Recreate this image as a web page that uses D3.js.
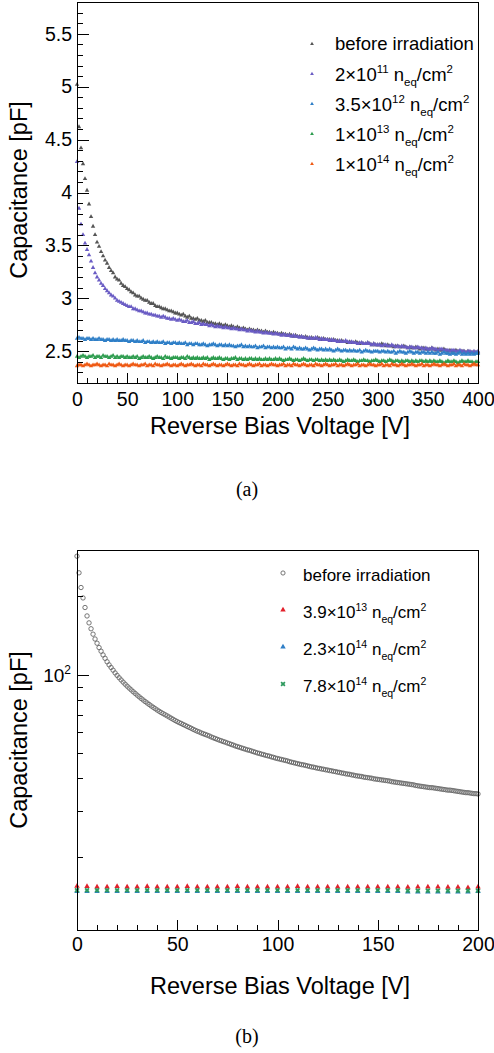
<!DOCTYPE html>
<html><head><meta charset="utf-8">
<script src="https://cdn.jsdelivr.net/npm/d3@7"></script>
<style>body{margin:0;background:#fff}svg{display:block}</style>
</head><body>
<svg id="c" width="494" height="1053"></svg>
<script>
// ---------------- DATA: panel (a) ----------------
const voltA = d3.range(0, 401, 2);
const capBefore = [
5.02,4.62,4.42,4.27,4.13,4.02,3.89,3.77,3.68,3.60,
3.53,3.49,3.44,3.40,3.36,3.33,3.29,3.26,3.24,3.20,
3.18,3.17,3.14,3.12,3.11,3.09,3.08,3.06,3.05,3.03,
3.02,3.02,3.00,2.99,2.98,2.98,2.96,2.95,2.95,2.93,
2.92,2.92,2.91,2.90,2.90,2.89,2.88,2.88,2.87,2.86,
2.86,
2.85,2.84,2.85,2.83,2.82,2.83,2.81,2.81,2.80,2.81,
2.79,2.79,2.78,2.79,2.77,2.77,2.77,2.76,2.76,2.75,
2.76,2.75,2.74,2.75,2.74,
2.73,2.74,2.73,2.72,2.73,2.72,2.71,2.72,2.71,2.70,
2.71,2.70,2.70,2.69,2.70,2.69,2.69,2.68,2.69,2.68,
2.68,2.67,2.68,2.67,2.67,
2.66,2.67,2.66,2.66,2.65,2.66,2.65,2.64,2.65,2.64,
2.64,2.64,2.63,2.64,2.63,2.62,2.63,2.62,2.62,2.63,
2.62,2.61,2.62,2.61,2.61,
2.61,2.60,2.61,2.60,2.60,2.59,2.60,2.59,2.59,2.58,
2.59,2.58,2.58,2.59,2.58,2.57,2.58,2.57,2.57,2.58,
2.57,2.56,2.57,2.56,2.56,
2.56,2.57,2.56,2.55,2.56,2.55,2.55,2.54,2.55,2.55,
2.54,2.54,2.55,2.54,2.53,2.54,2.53,2.53,2.54,2.53,
2.52,2.53,2.53,2.52,2.52,
2.52,2.53,2.52,2.51,2.52,2.51,2.51,2.52,2.51,2.50,
2.51,2.50,2.50,2.51,2.50,2.49,2.50,2.50,2.49,2.50,
2.49,2.49,2.48,2.49,2.49];
const cap2e11 = [
4.29,3.85,3.70,3.60,3.52,3.46,3.41,3.35,3.29,3.24,
3.20,3.17,3.14,3.12,3.09,3.07,3.05,3.03,3.02,3.00,
2.98,2.97,2.96,2.95,2.94,2.93,2.92,2.92,2.90,2.90,
2.89,2.88,2.88,2.87,2.86,2.86,2.85,2.85,2.84,2.84,
2.83,2.83,2.82,2.83,2.82,2.81,2.81,2.80,2.81,2.80,
2.79,
2.80,2.79,2.78,2.78,2.79,2.77,2.77,2.78,2.76,2.76,
2.77,2.75,2.76,2.75,2.75,2.74,2.75,2.74,2.73,2.74,
2.73,2.73,2.72,2.73,2.72,
2.72,2.71,2.72,2.71,2.71,2.70,2.71,2.70,2.70,2.69,
2.70,2.69,2.69,2.68,2.69,2.68,2.68,2.67,2.68,2.67,
2.67,2.67,2.66,2.67,2.66,
2.66,2.65,2.66,2.65,2.65,2.65,2.64,2.65,2.64,2.64,
2.63,2.64,2.63,2.63,2.62,2.63,2.62,2.62,2.63,2.62,
2.61,2.62,2.61,2.61,2.61,
2.60,2.61,2.60,2.60,2.59,2.60,2.59,2.59,2.60,2.59,
2.58,2.59,2.58,2.58,2.57,2.58,2.58,2.57,2.57,2.58,
2.57,2.56,2.57,2.56,2.56,
2.56,2.55,2.56,2.56,2.55,2.55,2.56,2.55,2.54,2.55,
2.54,2.55,2.54,2.54,2.53,2.54,2.54,2.53,2.53,2.54,
2.53,2.53,2.52,2.53,2.52,
2.52,2.53,2.52,2.52,2.51,2.52,2.52,2.51,2.51,2.51,
2.50,2.51,2.51,2.50,2.50,2.51,2.50,2.50,2.49,2.50,
2.50,2.49,2.50,2.49,2.50];
const cap35e12 = [
2.62,2.63,2.62,2.62,2.61,2.62,2.62,2.61,2.62,2.61,
2.61,2.62,2.61,2.61,2.60,2.61,2.61,2.60,2.61,2.60,
2.61,2.60,2.60,2.61,2.60,
2.60,2.59,2.60,2.60,2.59,2.60,2.59,2.59,2.60,2.58,
2.59,2.59,2.58,2.59,2.58,2.59,2.58,2.58,2.59,2.57,
2.58,2.58,2.57,2.58,2.58,
2.57,2.58,2.57,2.57,2.58,2.56,2.57,2.57,2.56,2.57,
2.57,2.56,2.56,2.57,2.56,2.55,2.56,2.56,2.57,2.56,
2.55,2.56,2.56,2.55,2.56,
2.55,2.56,2.55,2.55,2.54,2.55,2.55,2.56,2.54,2.55,
2.54,2.55,2.54,2.54,2.55,2.53,2.54,2.54,2.55,2.53,
2.54,2.54,2.53,2.54,2.53,
2.54,2.53,2.53,2.54,2.52,2.53,2.53,2.52,2.54,2.53,
2.52,2.53,2.52,2.52,2.53,2.52,2.51,2.52,2.53,2.52,
2.51,2.52,2.52,2.51,2.52,
2.51,2.52,2.51,2.50,2.51,2.52,2.51,2.50,2.51,2.51,
2.50,2.51,2.50,2.51,2.50,2.50,2.51,2.49,2.50,2.51,
2.50,2.50,2.49,2.50,2.50,
2.50,2.49,2.50,2.50,2.49,2.50,2.49,2.49,2.50,2.48,
2.49,2.50,2.49,2.49,2.48,2.49,2.50,2.49,2.48,2.49,
2.49,2.48,2.49,2.49,2.48,
2.49,2.48,2.49,2.48,2.48,2.49,2.47,2.48,2.49,2.48,
2.48,2.47,2.48,2.48,2.47,2.48,2.49,2.47,2.48,2.47,
2.48,2.47,2.48,2.47,2.48,2.48];
const cap1e13 = [
2.45,2.44,2.45,2.46,2.45,2.44,2.45,2.45,2.46,2.44,
2.45,2.45,2.44,2.46,2.45,2.45,2.44,2.45,2.46,2.44,
2.45,2.44,2.45,2.45,2.44,
2.45,2.44,2.44,2.45,2.44,2.45,2.43,2.44,2.45,2.44,
2.44,2.45,2.44,2.43,2.44,2.45,2.44,2.44,2.43,2.45,
2.44,2.44,2.43,2.44,2.44,
2.44,2.43,2.44,2.44,2.43,2.45,2.44,2.43,2.44,2.43,
2.44,2.43,2.43,2.44,2.43,2.44,2.42,2.43,2.44,2.43,
2.43,2.44,2.43,2.42,2.43,
2.43,2.42,2.43,2.43,2.44,2.42,2.43,2.43,2.42,2.43,
2.42,2.43,2.43,2.42,2.43,2.42,2.43,2.42,2.42,2.43,
2.42,2.43,2.42,2.42,2.43,
2.42,2.43,2.42,2.41,2.42,2.42,2.43,2.42,2.41,2.42,
2.42,2.41,2.42,2.43,2.42,2.41,2.42,2.42,2.41,2.42,
2.42,2.41,2.42,2.41,2.42,
2.41,2.42,2.41,2.42,2.41,2.41,2.42,2.41,2.40,2.41,
2.42,2.41,2.41,2.42,2.41,2.40,2.41,2.41,2.42,2.41,
2.41,2.40,2.41,2.41,2.42,
2.41,2.40,2.41,2.41,2.40,2.41,2.42,2.41,2.40,2.41,
2.41,2.40,2.41,2.40,2.41,2.41,2.40,2.41,2.40,2.41,
2.40,2.41,2.41,2.40,2.41,
2.40,2.41,2.40,2.41,2.40,2.40,2.41,2.40,2.39,2.40,
2.41,2.40,2.40,2.41,2.40,2.39,2.40,2.41,2.40,2.40,
2.41,2.40,2.40,2.39,2.40,2.40];
const cap1e14 = [
2.36,2.37,2.37,2.36,2.37,2.38,2.37,2.36,2.37,2.37,
2.38,2.37,2.36,2.37,2.37,2.36,2.38,2.37,2.37,2.36,
2.37,2.38,2.37,2.36,2.37,
2.37,2.36,2.37,2.38,2.37,2.37,2.36,2.37,2.37,2.38,
2.36,2.37,2.37,2.36,2.38,2.37,2.37,2.36,2.37,2.37,
2.38,2.37,2.36,2.37,2.37,
2.36,2.37,2.38,2.37,2.36,2.37,2.37,2.38,2.37,2.36,
2.37,2.37,2.36,2.38,2.37,2.37,2.36,2.37,2.38,2.37,
2.36,2.37,2.37,2.36,2.37,
2.38,2.37,2.36,2.37,2.37,2.36,2.38,2.37,2.37,2.36,
2.37,2.38,2.37,2.36,2.37,2.37,2.38,2.36,2.37,2.37,
2.36,2.37,2.38,2.37,2.37,
2.36,2.37,2.37,2.38,2.36,2.37,2.37,2.36,2.38,2.37,
2.37,2.36,2.37,2.38,2.37,2.36,2.37,2.37,2.36,2.38,
2.37,2.37,2.36,2.37,2.38,
2.37,2.36,2.37,2.37,2.38,2.36,2.37,2.37,2.36,2.37,
2.38,2.37,2.36,2.37,2.37,2.38,2.36,2.37,2.37,2.36,
2.37,2.38,2.37,2.37,2.36,
2.37,2.37,2.38,2.36,2.37,2.37,2.36,2.38,2.37,2.37,
2.36,2.37,2.38,2.37,2.36,2.37,2.37,2.38,2.37,2.36,
2.37,2.37,2.38,2.36,2.37,
2.37,2.36,2.37,2.38,2.37,2.37,2.36,2.37,2.38,2.37,
2.36,2.37,2.37,2.38,2.36,2.37,2.37,2.36,2.38,2.37,
2.37,2.36,2.37,2.38,2.37,2.37];
const labelsA = ["before irradiation", "2", "3.5", "1", "1"];
const expA = [null, "11", "12", "13", "14"];
const xTicksA = [0, 50, 100, 150, 200, 250, 300, 350, 400];
const yTicksA = [2.5, 3, 3.5, 4, 4.5, 5, 5.5];

// ---------------- DATA: panel (b) ----------------
const voltB1 = d3.range(0, 201, 1);
const capBeforeB = [
285,246,216,197,181,168,158,150,143,137,132,127,123,119,115.5,112,109,106.5,104,101.5,
99.3,97.3,95.4,93.6,91.9,90.3,88.8,87.4,86.0,84.7,83.4,82.2,81.0,79.9,78.8,77.8,76.8,75.8,74.9,74.0,73.1,72.3,71.5,
70.8,70.1,69.4,68.7,68.0,67.3,66.6,66.0,
65.4,64.9,64.3,63.8,63.2,62.7,62.2,61.6,61.1,60.6,
60.2,59.7,59.3,58.9,58.5,58.1,57.6,57.2,56.8,56.4,
56.0,55.7,55.3,55.0,54.6,54.3,53.9,53.6,53.2,52.9,
52.6,52.3,52.0,51.7,51.4,51.2,50.9,50.6,50.3,50.0,
49.8,49.5,49.3,49.0,48.8,48.6,48.3,48.1,47.8,47.6,
47.4,47.2,47.0,46.8,46.6,46.3,46.1,45.9,45.7,45.5,
45.3,45.1,45.0,44.8,44.6,44.4,44.2,44.1,43.9,43.7,
43.6,43.4,43.3,43.1,43.0,42.8,42.7,42.5,42.4,42.2,
42.1,41.9,41.8,41.6,41.5,41.4,41.2,41.1,40.9,40.8,
40.7,40.6,40.4,40.3,40.2,40.1,40.0,39.8,39.7,39.6,
39.5,39.4,39.3,39.2,39.1,39.0,38.8,38.7,38.6,38.5,
38.4,38.3,38.2,38.1,38.0,37.9,37.8,37.7,37.5,37.4,
37.3,37.2,37.1,37.0,36.9,36.8,36.8,36.7,36.6,36.5,
36.4,36.3,36.2,36.1,36.0,36.0,35.9,35.8,35.7,35.6,
35.5,35.4,35.3,35.2,35.2,35.1,35.0,34.9,34.9,34.8];
const voltB5 = d3.range(0, 201, 5);
const cap39e13 = [15.4,15.35,15.3,15.3,15.35,15.3,15.3,15.35,15.3,15.3,15.3,15.35,15.3,15.3,15.3,15.3,15.35,15.3,15.3,15.3,15.3,15.3,15.35,15.3,15.3,15.3,15.3,15.3,15.3,15.3,15.3,15.3,15.3,15.25,15.3,15.3,15.3,15.25,15.25,15.2,15.3];
const cap23e14 = [14.7,14.7,14.7,14.7,14.7,14.7,14.7,14.7,14.7,14.7,14.7,14.7,14.7,14.7,14.7,14.7,14.7,14.7,14.7,14.7,14.7,14.7,14.7,14.7,14.7,14.7,14.7,14.7,14.7,14.7,14.7,14.7,14.7,14.65,14.65,14.65,14.65,14.65,14.65,14.65,14.7];
const cap78e14 = [14.85,14.85,14.85,14.85,14.85,14.85,14.85,14.85,14.85,14.85,14.85,14.85,14.85,14.85,14.85,14.85,14.85,14.85,14.85,14.85,14.85,14.85,14.85,14.85,14.85,14.85,14.85,14.85,14.85,14.85,14.85,14.85,14.85,14.8,14.8,14.8,14.8,14.8,14.8,14.8,14.8];
const labelsB = ["before irradiation", "3.9", "2.3", "7.8"];
const expB = [null, "13", "14", "14"];
const xTicksB = [0, 50, 100, 150, 200];

// ---------------- DRAW ----------------
const FONT = "'Liberation Sans', Arial, Helvetica, sans-serif";
const svg = d3.select("#c");

function styleAxis(g, fs) {
  g.select(".domain").remove();
  g.selectAll("line").attr("stroke", "#000").attr("stroke-width", 1).attr("shape-rendering", "crispEdges");
  g.selectAll("text").attr("font-family", FONT).attr("font-size", fs).attr("fill", "#000");
}

function richText(sel, x, y, fs, mant, exp, plain) {
  const t = sel.append("text").attr("x", x).attr("y", y)
    .attr("font-family", FONT).attr("font-size", fs).attr("fill", "#000");
  if (plain) { t.text(plain); return t; }
  const up = fs * 0.42, dn = fs * 0.28, sfs = fs * 0.62;
  t.append("tspan").text(mant + "\u00d710");
  t.append("tspan").attr("dy", -up).attr("font-size", sfs).text(exp);
  t.append("tspan").attr("dy", up).text(" n");
  t.append("tspan").attr("dy", dn).attr("font-size", sfs).text("eq");
  t.append("tspan").attr("dy", -dn).text("/cm");
  t.append("tspan").attr("dy", -up).attr("font-size", sfs).text("2");
  return t;
}

// ===== Panel (a) =====
const xA = d3.scaleLinear().domain([0, 400]).range([77, 478]);
const yA = d3.scaleLinear().domain([2.2, 5.8]).range([383, 2]);
const gA = svg.append("g");

const colorsA = ["#555555", "#6a5cc4", "#2f7fc7", "#2d9c4e", "#ef5a14"];
const seriesA = [capBefore, cap2e11, cap35e12, cap1e13, cap1e14];
const triSmall = d3.symbol().type(d3.symbolTriangle).size(6);
const triData = d3.symbol().type(d3.symbolTriangle).size(8.5);

seriesA.forEach((vals, i) => {
  gA.append("g").selectAll("path").data(vals).join("path")
    .attr("d", triData)
    .attr("transform", (d, j) => `translate(${xA(voltA[j])},${yA(d)})`)
    .attr("fill", colorsA[i]);
});

// minor ticks
const yMinorA = d3.range(22, 59).map(v => v / 10).filter(v => !yTicksA.some(t => Math.abs(t - v) < 1e-6));
gA.append("g").attr("transform", "translate(77,0)")
  .call(d3.axisLeft(yA).tickValues(yMinorA).tickSize(-6).tickFormat(""))
  .call(g => styleAxis(g, 19));
gA.append("g").attr("transform", "translate(77,0)")
  .call(d3.axisLeft(yA).tickValues(yTicksA).tickSize(-12).tickPadding(5).tickFormat(d3.format("")))
  .call(g => styleAxis(g, 19.5));
const xMinorA = d3.range(0, 401, 10).filter(v => v % 50 !== 0);
gA.append("g").attr("transform", "translate(0,383)")
  .call(d3.axisBottom(xA).tickValues(xMinorA).tickSize(-5).tickFormat(""))
  .call(g => styleAxis(g, 19));
gA.append("g").attr("transform", "translate(0,383)")
  .call(d3.axisBottom(xA).tickValues(xTicksA).tickSize(-10).tickPadding(9).tickFormat(d3.format("")))
  .call(g => styleAxis(g, 19.5));

gA.append("rect").attr("x", 77).attr("y", 2).attr("width", 401).attr("height", 381)
  .attr("fill", "none").attr("stroke", "#000").attr("stroke-width", 1).attr("shape-rendering", "crispEdges");

gA.append("text").attr("x", 280).attr("y", 434).attr("text-anchor", "middle")
  .attr("font-family", FONT).attr("font-size", 23.5).text("Reverse Bias Voltage [V]");
gA.append("text").attr("transform", "translate(27,190) rotate(-90)").attr("text-anchor", "middle")
  .attr("font-family", FONT).attr("font-size", 23.5).text("Capacitance [pF]");
gA.append("text").attr("x", 247).attr("y", 496).attr("text-anchor", "middle")
  .attr("font-family", "'Liberation Serif', 'Times New Roman', serif").attr("font-size", 20).text("(a)");

// legend (a)
const legA = gA.append("g");
labelsA.forEach((lab, i) => {
  const yy = 44 + i * 30;
  legA.append("path").attr("d", triSmall).attr("transform", `translate(312,${yy})`).attr("fill", colorsA[i]);
  if (i === 0) richText(legA, 335, yy + 6, 18.5, null, null, lab);
  else richText(legA, 335, yy + 6.5, 18.5, lab, expA[i]);
});

// ===== Panel (b) =====
const xB = d3.scaleLinear().domain([0, 200]).range([77, 478]);
const yB = d3.scaleLog().domain([10.45, 301]).range([930, 550]);
const gB = svg.append("g");

gB.append("g").selectAll("circle").data(capBeforeB).join("circle")
  .attr("cx", (d, j) => xB(voltB1[j])).attr("cy", d => yB(d)).attr("r", 2.2)
  .attr("fill", "none").attr("stroke", "#666666").attr("stroke-width", 0.9);

const colorsB = ["#666666", "#e3202b", "#2f7fc7", "#2e9a5e"];
const triB = d3.symbol().type(d3.symbolTriangle).size(13);
const crossB = d3.symbol().type(d3.symbolCross).size(16);
gB.append("g").selectAll("path").data(cap39e13).join("path")
  .attr("d", triB).attr("transform", (d, j) => `translate(${xB(voltB5[j])},${yB(d)})`).attr("fill", colorsB[1]);
gB.append("g").selectAll("path").data(cap23e14).join("path")
  .attr("d", triB).attr("transform", (d, j) => `translate(${xB(voltB5[j])},${yB(d)})`).attr("fill", colorsB[2]);
gB.append("g").selectAll("path").data(cap78e14).join("path")
  .attr("d", crossB).attr("transform", (d, j) => `translate(${xB(voltB5[j])},${yB(d)}) rotate(45)`).attr("fill", colorsB[3]);

gB.append("g").attr("transform", "translate(77,0)")
  .call(d3.axisLeft(yB).tickValues([20, 30, 40, 50, 60, 70, 80, 90, 200, 300]).tickSize(-6).tickFormat(""))
  .call(g => styleAxis(g, 19));
gB.append("g").attr("transform", "translate(77,0)")
  .call(d3.axisLeft(yB).tickValues([100]).tickSize(-12).tickFormat(""))
  .call(g => styleAxis(g, 19));
const lab100 = gB.append("text").attr("x", 71).attr("y", yB(100) + 7.5).attr("text-anchor", "end")
  .attr("font-family", FONT).attr("font-size", 19);
lab100.append("tspan").text("10");
lab100.append("tspan").attr("dy", -8).attr("font-size", 12).text("2");

const xMinorB = d3.range(0, 201, 10).filter(v => v % 50 !== 0);
gB.append("g").attr("transform", "translate(0,930)")
  .call(d3.axisBottom(xB).tickValues(xMinorB).tickSize(-5).tickFormat(""))
  .call(g => styleAxis(g, 19));
gB.append("g").attr("transform", "translate(0,930)")
  .call(d3.axisBottom(xB).tickValues(xTicksB).tickSize(-10).tickPadding(7).tickFormat(d3.format("")))
  .call(g => styleAxis(g, 19.5));

gB.append("rect").attr("x", 77).attr("y", 550).attr("width", 401).attr("height", 380)
  .attr("fill", "none").attr("stroke", "#000").attr("stroke-width", 1).attr("shape-rendering", "crispEdges");

gB.append("text").attr("x", 280).attr("y", 994).attr("text-anchor", "middle")
  .attr("font-family", FONT).attr("font-size", 23.5).text("Reverse Bias Voltage [V]");
gB.append("text").attr("transform", "translate(27,740) rotate(-90)").attr("text-anchor", "middle")
  .attr("font-family", FONT).attr("font-size", 23.5).text("Capacitance [pF]");
gB.append("text").attr("x", 247).attr("y", 1043).attr("text-anchor", "middle")
  .attr("font-family", "'Liberation Serif', 'Times New Roman', serif").attr("font-size", 20).text("(b)");

// legend (b)
const legB = gB.append("g");
labelsB.forEach((lab, i) => {
  const yy = 573 + i * 37;
  if (i === 0) {
    legB.append("circle").attr("cx", 283).attr("cy", yy).attr("r", 2.1)
      .attr("fill", "none").attr("stroke", colorsB[0]).attr("stroke-width", 0.9);
    richText(legB, 303, yy + 8, 17, null, null, lab);
  } else {
    const sym = i === 3 ? crossB : triB;
    legB.append("path").attr("d", sym)
      .attr("transform", `translate(283,${yy})` + (i === 3 ? " rotate(45)" : ""))
      .attr("fill", colorsB[i]);
    richText(legB, 303, yy + 8, 17, lab, expB[i]);
  }
});
</script>
</body></html>
